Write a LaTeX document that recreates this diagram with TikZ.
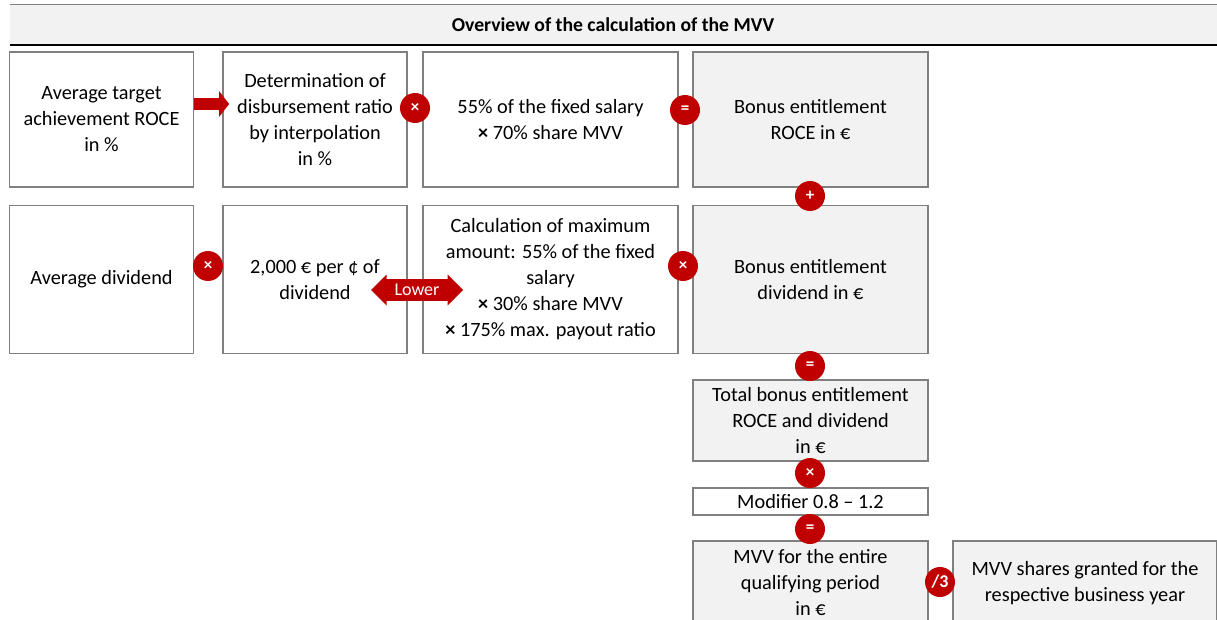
\documentclass[tikz,border=0pt]{standalone}
\usepackage{fontspec}
\setmainfont{Carlito}
\usetikzlibrary{shapes.arrows,arrows.meta}
\definecolor{boxgray}{HTML}{F2F2F2}
\definecolor{linegray}{HTML}{808080}
\definecolor{opred}{HTML}{C00000}
\tikzset{
    calcbox/.style={draw=linegray, line width=1.6, fill=white, align=center, font=\fontsize{20.3}{26}\selectfont},
    resultbox/.style={calcbox, fill=boxgray},
    opsign/.style={circle, fill=opred, text=white, inner sep=0, minimum size=30, font=\fontsize{17}{17}\selectfont\bfseries}
}
\begin{document}
\begin{tikzpicture}[x=1pt, y=-1pt]
        \useasboundingbox (0,0) rectangle (1217,620);
        % header
        \fill[boxgray] (10,5) rectangle (1217,45);
        \draw[linegray, line width=1] (10,5)--(1217,5);
        \draw[black, line width=2.5] (10,45)--(1217,45);
        \node[font=\fontsize{19.7}{20}\selectfont\bfseries] (title) at (613,25) {Overview of the calculation of the MVV};
        % first row: ROCE
        \node[calcbox, minimum width=184, minimum height=135] (roce) at (101.5,119.5) {Average target\\achievement ROCE\\in \%};
        \node[calcbox, minimum width=184, minimum height=135] (ratio) at (315,119.5) {Determination of\\disbursement ratio\\by interpolation\\in \%};
        \node[calcbox, minimum width=255, minimum height=135] (salary1) at (550.5,119.5) {55\% of the fixed salary\\\textbf{×} 70\% share MVV};
        \node[resultbox, minimum width=235, minimum height=135] (bonusroce) at (810.5,119.5) {Bonus entitlement\\ROCE in €};
        % second row: dividend
        \node[calcbox, minimum width=184, minimum height=148] (dividend) at (101.5,279.5) {Average dividend};
        \node[calcbox, minimum width=184, minimum height=148] (perc) at (315,279.5) {2,000 € per ¢ of\\dividend};
        \node[calcbox, minimum width=255, minimum height=148] (maxamount) at (550.5,279.5) {Calculation of maximum\\amount: 55\% of the fixed\\salary\\\textbf{×} 30\% share MVV\\\textbf{×} 175\% max. payout ratio};
        \node[resultbox, minimum width=235, minimum height=148] (bonusdiv) at (810.5,279.5) {Bonus entitlement\\dividend in €};
        % result column
        \node[resultbox, minimum width=235, minimum height=81] (total) at (810.5,420.5) {Total bonus entitlement\\ROCE and dividend\\in €};
        \node[calcbox, minimum width=235, minimum height=27, inner sep=0] (modifier) at (810.5,501.5) {Modifier 0.8 – 1.2};
        \node[resultbox, minimum width=235, minimum height=84] (mvvtotal) at (810.5,583) {MVV for the entire\\qualifying period\\in €};
        \node[resultbox, minimum width=264, minimum height=84] (mvvshares) at (1085,583) {MVV shares granted for the\\respective business year};
        % arrows
        \draw[opred, line width=12, -{Triangle[length=10pt, width=25pt]}] ([yshift=15.5]roce.east) -- ([xshift=7, yshift=15.5]ratio.west);
        \node[double arrow, fill=opred, text=white, minimum height=92, minimum width=31, double arrow head extend=3, inner sep=1, font=\fontsize{18}{18}\selectfont] (lower) at (417,290) {Lower};
        % operators
        \node[opsign] (times1) at (415,108) {×};
        \node[opsign] (eq1) at (685,110) {=};
        \node[opsign] (plus) at (810,196) {+};
        \node[opsign] (times2) at (208,266) {×};
        \node[opsign] (times3) at (683,266) {×};
        \node[opsign] (eq2) at (810,366) {=};
        \node[opsign] (times4) at (810,473) {×};
        \node[opsign] (eq3) at (810,529) {=};
        \node[opsign, font=\fontsize{18}{18}\selectfont\bfseries] (div) at (940,582) {/3};
    \end{tikzpicture}
\end{document}
